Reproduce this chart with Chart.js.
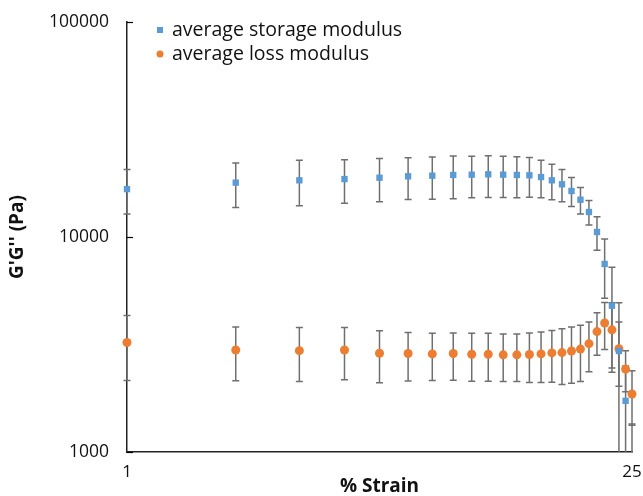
<!DOCTYPE html>
<html><head><meta charset="utf-8">
<script src="https://cdn.jsdelivr.net/npm/chart.js@4/dist/chart.umd.min.js"></script>
<style>html,body{margin:0;padding:0;background:#fff}#wrap{width:643px;height:496px}</style>
</head><body><div id="wrap"><canvas id="c" width="643" height="496"></canvas></div>
<script>
const strain = [1,2,3,4,5,6,7,8,9,10,11,12,13,14,15,16,17,18,19,20,21,22,23,24,25];
const storageModulus = [16700,17900,18350,18600,18870,19150,19280,19430,19490,19570,19490,19430,19360,19000,18350,17580,16370,14910,13070,10550,7490,4790,2950,1730,850];
const storageSD      = [3900,4200,4380,4250,4290,4200,4300,4350,4250,4290,4230,4190,4050,3780,3435,3000,2520,2100,1710,1880,2300,2440,2000,780,500];
const lossModulus    = [3230,2980,2960,2980,2880,2870,2860,2870,2850,2850,2830,2830,2840,2860,2890,2900,2950,3010,3190,3630,3980,3700,3020,2430,1860];
const lossSD         = [1080,835,830,810,780,730,710,711,714,714,705,705,737,755,780,840,860,880,830,815,980,1240,1000,525,530];
const xTickValues = [1, 25];
const yTickValues = [1000, 10000, 100000];
const seriesNames = ['average storage modulus', 'average loss modulus'];
const seriesColors = ['#5B9BD5', '#ED7D31'];

const errorBars = {
  id: 'errorBars',
  beforeDatasetsDraw(chart) {
    const {ctx, chartArea: a, scales: {x, y}} = chart;
    ctx.save();
    ctx.beginPath();
    ctx.rect(0, a.top, chart.width, a.bottom - a.top);
    ctx.clip();
    ctx.strokeStyle = '#6f6f6f';
    ctx.lineWidth = 1.5;
    chart.data.datasets.forEach(ds => {
      ds.data.forEach((p, j) => {
        const e = ds.errors[j];
        if (p.y == null || e == null) return;
        const px = x.getPixelForValue(p.x);
        const pt = y.getPixelForValue(p.y + e);
        const lo = p.y - e;
        const pb = lo > 0 ? y.getPixelForValue(lo) : a.bottom + 20;
        ctx.beginPath();
        ctx.moveTo(px, pt); ctx.lineTo(px, pb);
        ctx.moveTo(px - 3.5, pt); ctx.lineTo(px + 3.5, pt);
        ctx.moveTo(px - 3.5, pb); ctx.lineTo(px + 3.5, pb);
        ctx.stroke();
      });
    });
    ctx.restore();
  },
  afterDraw(chart) {
    const {ctx, chartArea: a, scales: {y}} = chart;
    ctx.save();
    ctx.strokeStyle = '#000';
    ctx.lineWidth = 1.2;
    yTickValues.forEach(v => {
      const py = Math.round(y.getPixelForValue(v)) + 0.5;
      ctx.beginPath(); ctx.moveTo(a.left, py); ctx.lineTo(a.left + 6, py); ctx.stroke();
    });
    // legend
    ctx.font = "19.5px 'Open Sans', sans-serif";
    ctx.textBaseline = 'middle';
    const lx = 160, ly = [30, 54];
    ctx.fillStyle = seriesColors[0];
    ctx.fillRect(lx - 3, ly[0] - 3, 6, 6);
    ctx.beginPath(); ctx.arc(lx, ly[1], 3.5, 0, Math.PI * 2); ctx.fillStyle = seriesColors[1]; ctx.fill();
    ctx.fillStyle = '#111';
    ctx.fillText(seriesNames[0], 172, ly[0]);
    ctx.fillText(seriesNames[1], 172, ly[1]);
    ctx.restore();
  }
};

Chart.defaults.font.family = "'Open Sans', sans-serif";
new Chart(document.getElementById('c'), {
  type: 'scatter',
  data: {
    datasets: [
      {label: seriesNames[0], data: strain.map((s, i) => ({x: s, y: storageModulus[i]})), errors: storageSD,
       pointStyle: 'rect', pointRadius: 4.5, borderWidth: 0, backgroundColor: seriesColors[0], borderColor: seriesColors[0],
       clip: {left: 10, right: 10, top: 10, bottom: 0}},
      {label: seriesNames[1], data: strain.map((s, i) => ({x: s, y: lossModulus[i]})), errors: lossSD,
       pointStyle: 'circle', pointRadius: 4.5, borderWidth: 0, backgroundColor: seriesColors[1], borderColor: seriesColors[1], clip: false}
    ]
  },
  options: {
    responsive: false, animation: false,
    layout: {padding: {top: 22, right: 11, left: 0, bottom: 0}},
    plugins: {legend: {display: false}, tooltip: {enabled: false}},
    scales: {
      x: {
        type: 'logarithmic', min: 1, max: 25,
        grid: {display: false, drawTicks: false},
        border: {display: true, color: '#222', width: 1.5},
        afterBuildTicks: s => { s.ticks = xTickValues.map(v => ({value: v})); },
        ticks: {callback: v => String(v), color: '#111', font: {size: 17}, padding: 10, maxRotation: 0, autoSkip: false},
        title: {display: true, text: '% Strain', color: '#111', font: {size: 19, weight: 'bold', lineHeight: 1.0}, padding: {top: -2, bottom: 0}},
        afterFit: s => { s.height = 44; s.paddingLeft = 0; s.paddingRight = 0; }
      },
      y: {
        type: 'logarithmic', min: 1000, max: 100000,
        grid: {display: false, drawTicks: false},
        border: {display: true, color: '#222', width: 1.5},
        afterBuildTicks: s => { s.ticks = yTickValues.map(v => ({value: v})); },
        ticks: {callback: v => String(v), color: '#111', font: {size: 17.5}, padding: 18, autoSkip: false},
        title: {display: true, text: "G'G'' (Pa)", color: '#111', font: {size: 19, weight: 'bold'}, padding: {top: 6, bottom: 0}},
        afterFit: s => { s.width = 127; s.paddingTop = 0; s.paddingBottom = 0; }
      }
    }
  },
  plugins: [errorBars]
});
</script>
</body></html>
